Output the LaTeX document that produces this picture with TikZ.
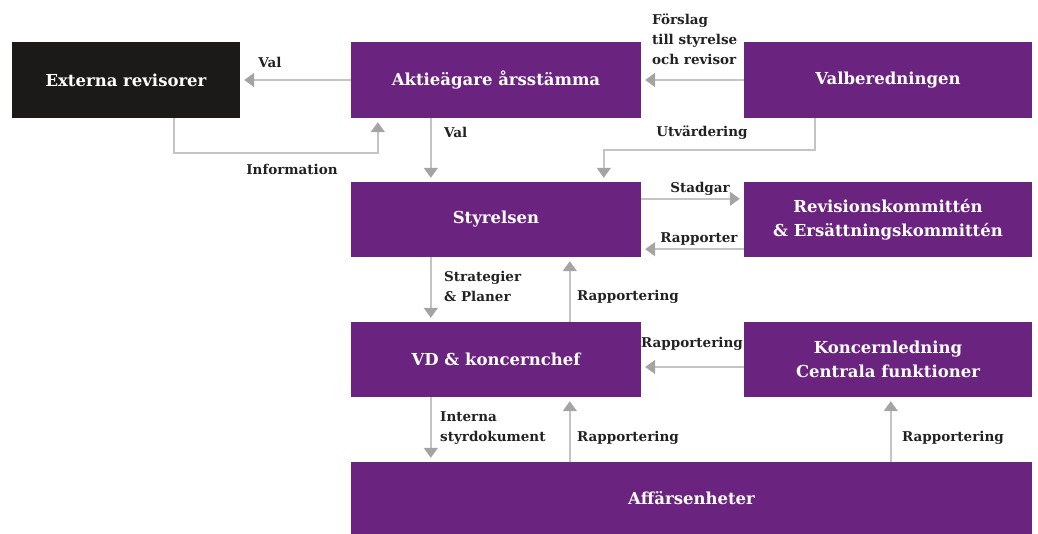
\documentclass[tikz,border=0pt]{standalone}
\usepackage{fontspec}
\setmainfont{DejaVu Serif}
\usepackage{xcolor}
\usetikzlibrary{positioning,calc,arrows.meta}
\definecolor{lila}{HTML}{6B2380}
\definecolor{svart}{HTML}{1C1A19}
\definecolor{linje}{HTML}{C4C4C4}
\definecolor{spets}{HTML}{A4A4A4}
\definecolor{text}{HTML}{222222}

\begin{document}
\begin{tikzpicture}[x=1pt,y=-1pt,
    box/.style={fill=lila, text=white, font=\bfseries\fontsize{16.5}{24}\selectfont, minimum width=290pt, minimum height=76pt, inner sep=0pt, align=center},
    conn/.style={draw=linje, line width=1.6pt, -{Triangle[width=14pt,length=10pt,fill=spets,color=spets]}, shorten >=4pt},
    lbl/.style={text=text, font=\bfseries\fontsize{13.5}{20}\selectfont, inner sep=0pt, align=left}]
    \useasboundingbox (0,0) rectangle (1038,534);
    \node[box, fill=svart, minimum width=228pt] (ext) at (126,80) {Externa revisorer};
    \node[box] (ak) at (496,80) {Aktieägare årsstämma};
    \node[box, minimum width=288pt] (val) at (888,80) {Valberedningen};
    \node[box, minimum height=75pt] (sty) at (496,219.5) {Styrelsen};
    \node[box, minimum width=288pt, minimum height=75pt] (rev) at (888,219.5) {Revisionskommittén\\\& Ersättningskommittén};
    \node[box, minimum height=75pt] (vd) at (496,359.5) {VD \& koncernchef};
    \node[box, minimum width=288pt, minimum height=75pt] (kon) at (888,359.5) {Koncernledning\\Centrala funktioner};
    \node[box, minimum width=681pt, minimum height=72pt] (aff) at (691.5,498) {Affärsenheter};

    \draw[conn] (ak.west) -- (ext.east);
    \draw[conn] ([xshift=162pt]ext.south west) -- ++(0,35) -| ([xshift=27pt]ak.south west);
    \draw[conn] ([xshift=80pt]ak.south west) -- ([xshift=80pt]sty.north west);
    \draw[conn] (val.west) -- (ak.east);
    \draw[conn] ([xshift=71pt]val.south west) -- ++(0,32) -| ([xshift=253pt]sty.north west);
    \draw[conn] ([yshift=-17pt]sty.north east) -- ([yshift=-17pt]rev.north west);
    \draw[conn] ([yshift=8pt]rev.south west) -- ([yshift=8pt]sty.south east);
    \draw[conn] ([xshift=80pt]sty.south west) -- ([xshift=80pt]vd.north west);
    \draw[conn] ([xshift=219pt]vd.north west) -- ([xshift=219pt]sty.south west);
    \draw[conn] ([yshift=-7.5pt]kon.west) -- ([yshift=-7.5pt]vd.east);
    \draw[conn] ([xshift=80pt]vd.south west) -- ([xshift=80pt]aff.north west);
    \draw[conn] ([xshift=219pt]aff.north west) -- ([xshift=219pt]vd.south west);
    \draw[conn] ([xshift=540pt]aff.north west) -- ([xshift=540pt]aff.north west |- kon.south);

    \node[lbl] (lval) at (270,62) {Val};
    \node[lbl] (linf) at (292,169) {Information};
    \node[lbl, anchor=west] (lval2) at (444,132) {Val};
    \node[lbl, anchor=north west] (lfor) at (652,14) {Förslag\\till styrelse\\och revisor};
    \node[lbl] (lutv) at (702,133) {Utvärdering};
    \node[lbl] (lsta) at (700,189) {Stadgar};
    \node[lbl] (lrap) at (699,239) {Rapporter};
    \node[lbl, anchor=north west] (lstr) at (444,271) {Strategier\\\& Planer};
    \node[lbl] (lr1) at (628,297) {Rapportering};
    \node[lbl] (lr2) at (692,344) {Rapportering};
    \node[lbl, anchor=north west] (lint) at (440,411) {Interna\\styrdokument};
    \node[lbl] (lr3) at (628,438) {Rapportering};
    \node[lbl] (lr4) at (953,438) {Rapportering};
\end{tikzpicture}
\end{document}
